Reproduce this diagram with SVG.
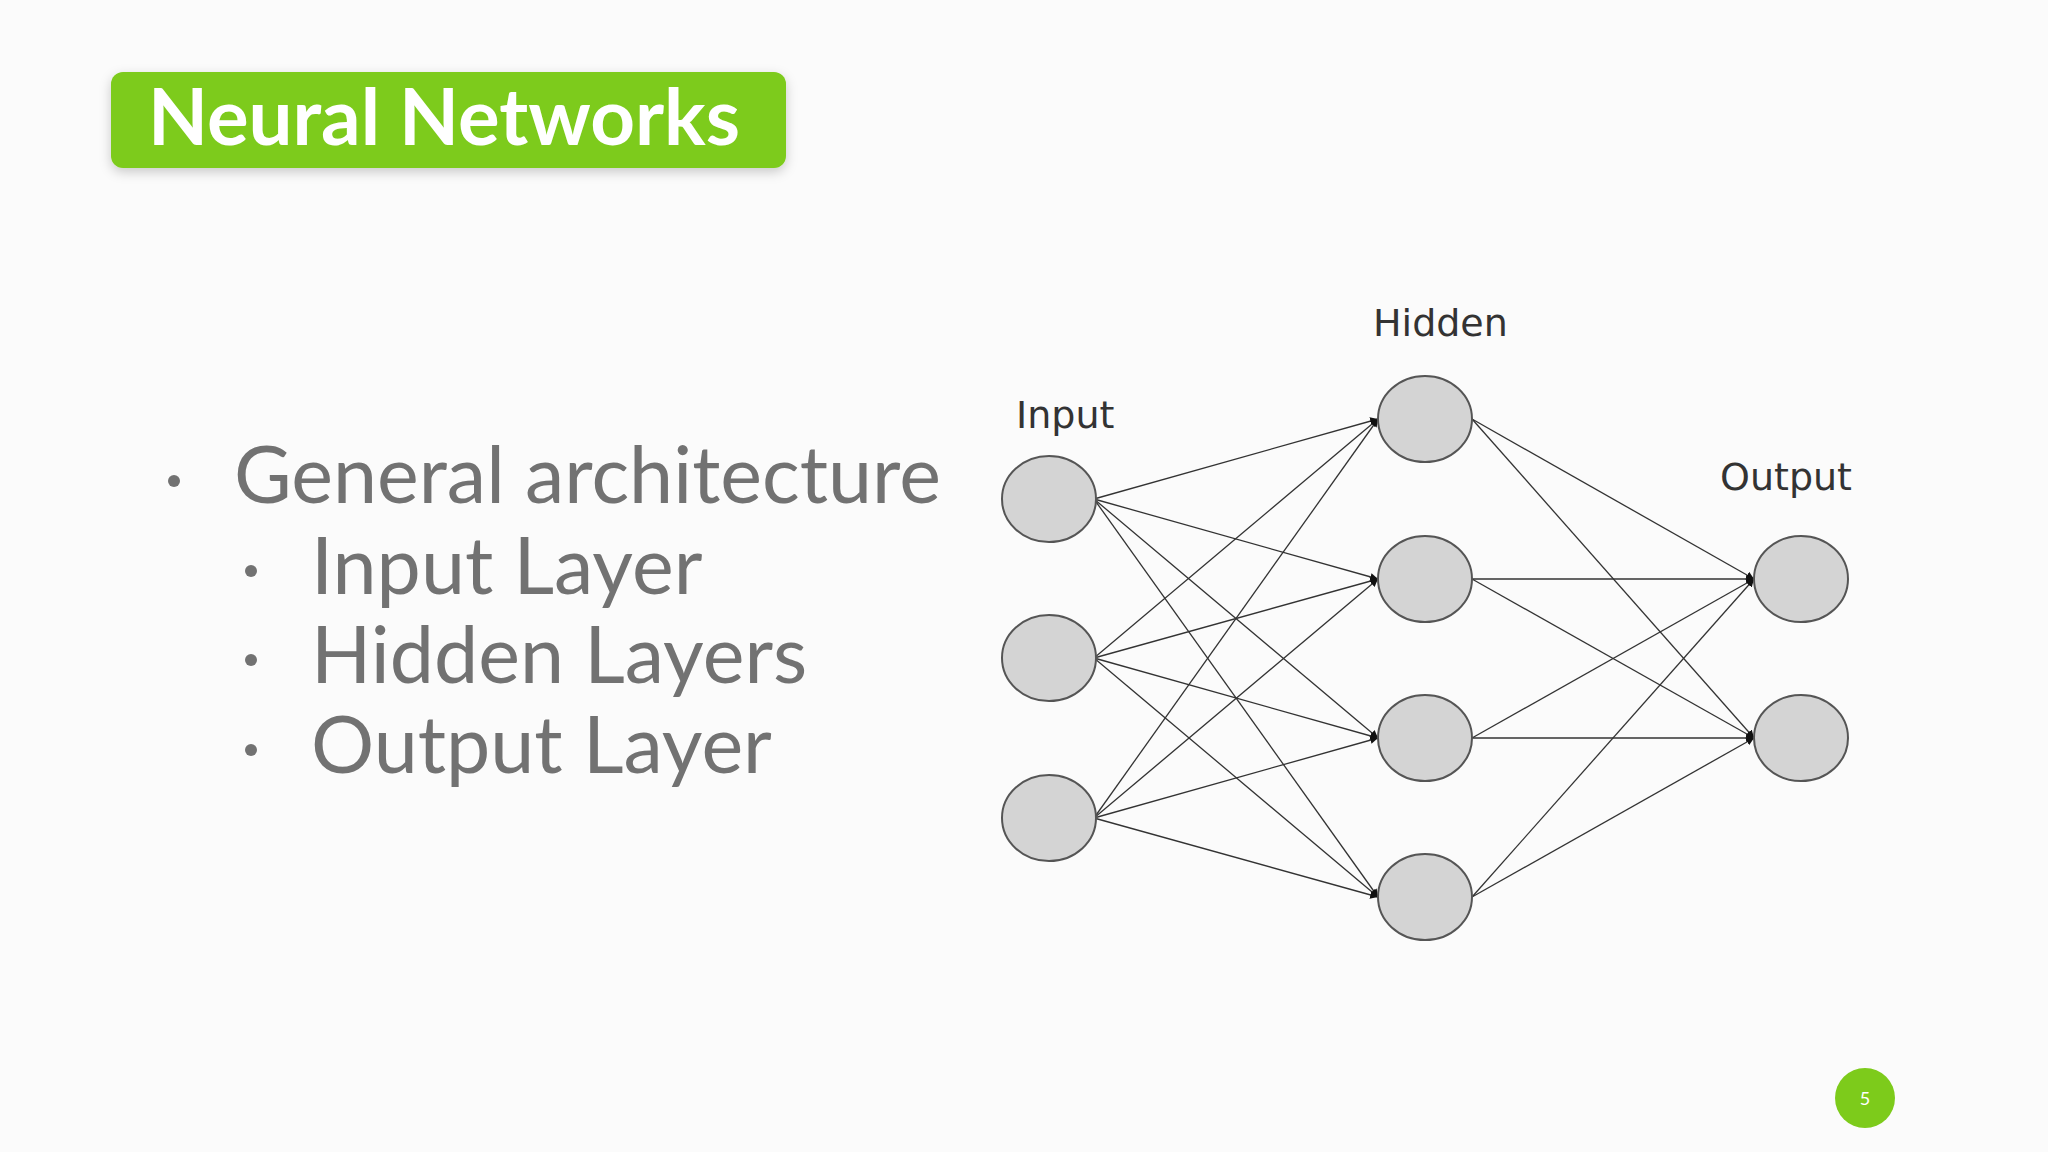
<svg xmlns="http://www.w3.org/2000/svg" width="2048" height="1152" viewBox="0 0 2048 1152">
<defs>
<style>
.n{fill:#d4d4d4;stroke:#555;stroke-width:2}
.c line{stroke:#333;stroke-width:1.3}
.lb{font-family:"DejaVu Sans",sans-serif;font-size:38px;fill:#333}
.bt{font-family:Lato,"Open Sans",sans-serif;font-size:79px;fill:#727272}
</style>
<marker id="a" viewBox="0 0 10 10" refX="10" refY="5" markerWidth="6" markerHeight="6" orient="auto"><path d="M0,0L10,5L0,10z" fill="#111"/></marker>
<filter id="sh" x="-10%" y="-30%" width="120%" height="160%"><feDropShadow dx="0" dy="4" stdDeviation="6" flood-color="#000" flood-opacity="0.2"/></filter>
</defs>
<rect width="2048" height="1152" fill="#fbfbfb"/>
<g id="title"><rect x="111" y="72" width="675" height="96" rx="12" fill="#7dcb1b" filter="url(#sh)"/>
<text x="148" y="145" font-family="Lato,'Open Sans',sans-serif" font-size="78" font-weight="bold" fill="#fff">Neural Networks</text></g>
<g id="bullets">
<circle cx="174" cy="481" r="6" fill="#727272"/><text class="bt" x="234" y="503">General architecture</text>
<circle cx="251" cy="571" r="6" fill="#727272"/><text class="bt" x="311" y="594">Input Layer</text>
<circle cx="251" cy="660" r="6" fill="#727272"/><text class="bt" x="311" y="683">Hidden Layers</text>
<circle cx="251" cy="750" r="6" fill="#727272"/><text class="bt" x="311" y="773">Output Layer</text>
</g>
<g id="connectors" class="c">
<line x1="1094" y1="499" x2="1378" y2="419" marker-end="url(#a)"/><line x1="1094" y1="499" x2="1378" y2="579" marker-end="url(#a)"/><line x1="1094" y1="499" x2="1378" y2="738" marker-end="url(#a)"/><line x1="1094" y1="499" x2="1378" y2="897" marker-end="url(#a)"/>
<line x1="1094" y1="658" x2="1378" y2="419" marker-end="url(#a)"/><line x1="1094" y1="658" x2="1378" y2="579" marker-end="url(#a)"/><line x1="1094" y1="658" x2="1378" y2="738" marker-end="url(#a)"/><line x1="1094" y1="658" x2="1378" y2="897" marker-end="url(#a)"/>
<line x1="1094" y1="818" x2="1378" y2="419" marker-end="url(#a)"/><line x1="1094" y1="818" x2="1378" y2="579" marker-end="url(#a)"/><line x1="1094" y1="818" x2="1378" y2="738" marker-end="url(#a)"/><line x1="1094" y1="818" x2="1378" y2="897" marker-end="url(#a)"/>
<line x1="1472" y1="419" x2="1754" y2="579" marker-end="url(#a)"/><line x1="1472" y1="419" x2="1754" y2="738" marker-end="url(#a)"/>
<line x1="1472" y1="579" x2="1754" y2="579" marker-end="url(#a)"/><line x1="1472" y1="579" x2="1754" y2="738" marker-end="url(#a)"/>
<line x1="1472" y1="738" x2="1754" y2="579" marker-end="url(#a)"/><line x1="1472" y1="738" x2="1754" y2="738" marker-end="url(#a)"/>
<line x1="1472" y1="897" x2="1754" y2="579" marker-end="url(#a)"/><line x1="1472" y1="897" x2="1754" y2="738" marker-end="url(#a)"/>
</g>
<g id="input"><ellipse class="n" cx="1049" cy="499" rx="47" ry="43"/><ellipse class="n" cx="1049" cy="658" rx="47" ry="43"/><ellipse class="n" cx="1049" cy="818" rx="47" ry="43"/><text class="lb" x="1016" y="428">Input</text></g>
<g id="hidden"><ellipse class="n" cx="1425" cy="419" rx="47" ry="43"/><ellipse class="n" cx="1425" cy="579" rx="47" ry="43"/><ellipse class="n" cx="1425" cy="738" rx="47" ry="43"/><ellipse class="n" cx="1425" cy="897" rx="47" ry="43"/><text class="lb" x="1373" y="336">Hidden</text></g>
<g id="output"><ellipse class="n" cx="1801" cy="579" rx="47" ry="43"/><ellipse class="n" cx="1801" cy="738" rx="47" ry="43"/><text class="lb" x="1720" y="490">Output</text></g>
<g id="page"><circle cx="1865" cy="1098" r="30" fill="#7dcb1b"/><text x="1865" y="1105" text-anchor="middle" font-family="Lato,sans-serif" font-size="18" fill="#fff">5</text></g>
</svg>
